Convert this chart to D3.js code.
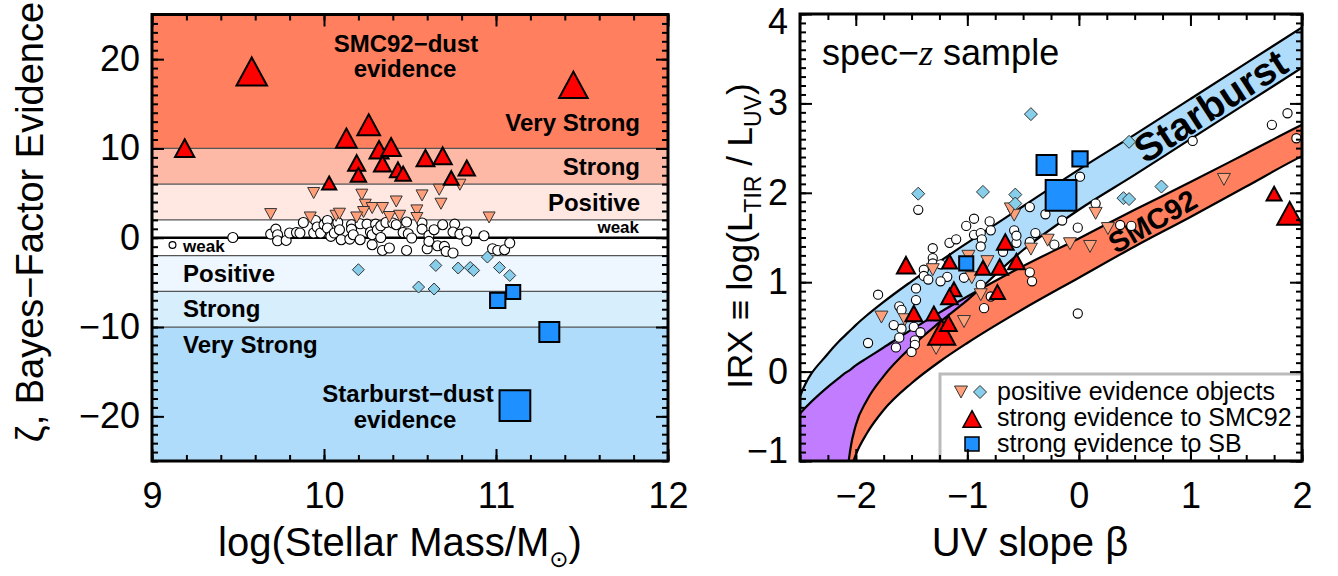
<!DOCTYPE html>
<html>
<head>
<meta charset="utf-8">
<script src="https://cdn.jsdelivr.net/npm/d3@7"></script>
<style>
  html, body { margin: 0; padding: 0; background: #fff; }
  svg text { font-family: "Liberation Sans", Arial, Helvetica, sans-serif; }
</style>
</head>
<body>
<svg id="fig" width="1338" height="576"></svg>
<script>
// ---------------- Left panel: Bayes-factor evidence vs. stellar mass ----------------
const massTicks = [9, 10, 11, 12];
const zetaTicks = [-20, -10, 0, 10, 20];
const zetaBandEdges = [25, 10, 6, 2, -2, -6, -10, -25];
const zetaBandFills = ["#ff7f5e", "#fdb9a6", "#ffe8e2", "#ffffff", "#eef7ff", "#d7eefd", "#afdcfb"];
const zetaBandLines = [10, 6, 2, -2, -6, -10];

// [log M*, zeta]
const smcStrong = [[9.19,10.04],[10.13,11.16],[10.26,12.65],[10.32,9.85],[10.39,10.16],[10.19,8.37],
  [10.34,8.29],[10.20,7.05],[10.43,7.61],[10.46,7.17],[10.59,8.92],[10.69,9.18],[10.74,6.69],
  [10.83,7.81],[10.03,6.13],[9.58,18.62],[11.45,17.13]];
const smcPositive = [[9.94,5.01],[10.22,4.82],[10.57,4.74],[10.67,5.38],[10.79,5.94],[10.24,3.70],
  [10.28,3.33],[10.34,3.33],[10.42,4.06],[10.68,3.81],[10.23,2.88],[10.54,3.06],[9.69,2.65],
  [9.92,2.27],[10.07,2.46],[10.09,2.69],[10.19,2.27],[10.38,2.32],[10.44,2.46],[10.54,2.21],[10.96,2.27]];
const sbPositive = [[10.20,-3.58],[10.65,-3.10],[10.78,-3.39],[10.85,-3.33],[10.87,-3.66],[10.95,-2.16],
  [11.02,-3.33],[11.08,-4.22],[10.55,-5.52],[10.64,-5.74]];
const sbStrong = [[11.01,-7.02],[11.10,-6.08],[11.31,-10.56],[11.11,-18.81]];
const weakObjects = [[9.47,0.03],[9.69,0.41],[9.72,0.97],[9.73,0.34],[9.73,-0.34],[9.78,-0.30],[9.80,0.53],
  [9.84,0.59],[9.86,0.53],[9.88,1.71],[9.94,0.53],[9.95,1.94],[9.96,1.20],[9.98,0.53],[10.00,1.46],
  [10.02,1.94],[10.02,1.09],[10.04,0.15],[10.06,0.53],[10.08,1.71],[10.09,0.90],[10.10,-0.22],
  [10.15,-0.15],[10.16,1.46],[10.16,0.97],[10.17,0.34],[10.21,-0.22],[10.21,1.57],[10.25,1.53],
  [10.27,0.64],[10.28,-0.78],[10.28,0.34],[10.30,1.53],[10.31,0.90],[10.33,0.03],[10.33,1.34],
  [10.34,-1.42],[10.36,1.71],[10.38,-1.15],[10.40,1.65],[10.42,1.46],[10.46,0.59],[10.48,-1.42],
  [10.48,1.76],[10.49,0.45],[10.51,-0.03],[10.57,1.65],[10.57,0.97],[10.60,-1.23],[10.61,0.26],
  [10.61,-0.41],[10.64,0.90],[10.66,-0.90],[10.69,1.46],[10.70,-0.97],[10.71,-1.53],[10.75,-1.71],
  [10.76,1.53],[10.75,0.64],[10.79,0.41],[10.83,0.64],[10.83,-0.34],[10.93,0.22],[10.98,-1.23],
  [11.01,-1.42],[11.05,-1.34],[11.08,-0.59]];

// ---------------- Right panel: IRX vs. UV slope ----------------
const betaTicks = [-2, -1, 0, 1, 2];
const irxTicks = [-1, 0, 1, 2, 3, 4];
// model envelopes sampled on a common beta grid (values below -1 fall outside the frame)
const curveBeta = [-2.6,-2.5,-2.25,-2.15,-2.1,-2.05,-2.0,-1.9,-1.75,-1.5,-1.25,-1.0,-0.5,0,0.5,1,1.5,2,2.1];
const sbUpper   = [-0.68,-0.28,0.20,0.34,0.40,0.46,0.52,0.63,0.78,1.01,1.23,1.44,1.85,2.26,2.65,3.05,3.45,3.85,3.93];
const sbLower   = [-3,-3,-3,-3,-1.5,-0.88,-0.60,-0.32,-0.05,0.28,0.55,0.80,1.36,1.81,2.20,2.60,3.00,3.40,3.48];
const smcUpper  = [-0.63,-0.47,-0.17,-0.07,-0.02,0.02,0.07,0.15,0.27,0.47,0.66,0.84,1.18,1.49,1.81,2.12,2.44,2.76,2.82];
const smcLower  = [-3,-3,-3,-3,-1.39,-1.11,-0.93,-0.69,-0.43,-0.13,0.11,0.32,0.70,1.05,1.40,1.73,2.07,2.41,2.47];

// [beta, IRX, zeta]
const rSmcStrong = [[-1.23,0.44,16],[-1.55,1.19,9.1],[-1.16,1.23,6.8],[-0.86,1.16,6.8],[-0.71,1.17,8.1],
  [-0.56,1.23,8.1],[-0.66,1.45,8.1],[-1.12,0.92,6.8],[-1.16,0.84,8.1],[-0.73,0.89,6.8],[-1.48,0.65,8.1],
  [-1.30,0.65,6.8],[-1.17,0.54,8.1],[1.75,1.99,6.8],[1.89,1.77,14.4]];
const rSbStrong = [[-0.16,1.97,-18.8],[-0.29,2.31,-10.6],[0.01,2.38,-7.0],[-1.01,1.21,-6.1]];
// [beta, IRX]
const rSmcPositive = [[-1.77,0.61],[-1.31,1.14],[-0.99,1.29],[-0.82,1.23],[-0.96,1.05],[-0.88,0.86],
  [-0.58,1.75],[-0.28,1.47],[-0.43,1.37],[-0.08,1.43],[-1.03,0.56],[-1.28,0.26],[-1.56,0.58],
  [1.30,2.15],[-0.61,1.82],[0.15,1.77],[0.26,1.60],[0.10,1.40]];
const rSbPositive = [[-0.43,2.88],[-1.44,1.99],[-0.86,2.01],[-0.57,1.98],[-0.57,1.88],[0.45,2.57],
  [0.74,2.07],[0.40,1.94],[0.45,1.93]];
const rWeak = [[-1.44,1.81],[-0.94,1.71],[-1.01,1.63],[-0.80,1.68],[-0.79,1.58],[-0.94,1.53],[-0.88,1.55],
  [-0.87,1.48],[-0.88,1.40],[-1.16,1.44],[-1.10,1.48],[-1.31,1.38],[-1.31,1.27],[-1.31,1.21],[-1.24,1.20],
  [-1.39,1.14],[-1.39,1.07],[-1.35,1.03],[-1.18,1.06],[-1.24,1.01],[-1.46,0.93],[-1.03,1.05],[-0.88,0.97],
  [-0.85,0.71],[-0.79,0.84],[-1.80,0.86],[-1.61,0.73],[-1.59,0.69],[-1.46,0.80],[-1.48,0.50],[-1.59,0.48],
  [-1.66,0.52],[-1.61,0.38],[-1.47,0.35],[-1.47,0.30],[-1.50,0.22],[-1.64,0.27],[-1.42,0.44],[-1.89,0.32],
  [-0.58,1.58],[-0.56,1.44],[-0.68,1.34],[-0.56,1.52],[-0.44,1.45],[-0.39,1.55],[-0.30,1.76],[-0.22,1.42],
  [-0.15,1.69],[-0.44,1.11],[-0.42,1.01],[-0.01,1.61],[-0.01,0.65],[-0.44,1.84],[1.73,2.76],[1.87,2.89],
  [1.95,2.61],[1.02,2.58],[0.01,2.18],[0.15,1.88],[0.37,1.64],[0.47,1.63]];

const legendRows = ["positive evidence objects", "strong evidence to SMC92", "strong evidence to SB"];

// ---------------- styles ----------------
const C = {
  red: "#ff0000", sq: "#1e90ff", salmon: "#ffa07a", sky: "#87ceeb",
  sbBand: "#afdcfb", smcBand: "#ff7f5e", overlap: "#c17cff"
};
const TICK_FONT = 36, TITLE_FONT = 40;
const intFmt = d3.format("d");

const svg = d3.select("#fig");
svg.append("rect").attr("width", 1338).attr("height", 576).attr("fill", "#fff");

// symbol paths centred on their bounding box
function triUp(w) { const h = 0.92 * w; return `M0,${-h/2}L${w/2},${h/2}L${-w/2},${h/2}Z`; }
function triDown(w) { const h = 0.92 * w; return `M${-w/2},${-h/2}L${w/2},${-h/2}L0,${h/2}Z`; }
function diamond(w) { return `M0,${-w/2}L${w/2},0L0,${w/2}L${-w/2},0Z`; }
function square(w) { return `M${-w/2},${-w/2}h${w}v${w}h${-w}Z`; }

// marker width grows with |zeta|
const sizeScale = d3.scaleLinear().domain([6, 19]).range([14, 31]);

function framedAxes(g, x, y, o) {
  const [x0, x1] = x.range(), [y0, y1] = y.range();
  const majLen = 12, minLen = 6;
  const style = sel => {
    sel.select(".domain").remove();
    sel.selectAll("line").attr("stroke", "#000").attr("stroke-width", 2);
    sel.selectAll("text").attr("fill", "#000").attr("font-size", TICK_FONT)
      .attr("font-family", '"Liberation Sans", Arial, sans-serif');
  };
  // minor ticks on all four sides
  g.append("g").attr("transform", `translate(0,${y0})`)
    .call(d3.axisBottom(x).tickValues(o.xMinor).tickSize(-minLen).tickFormat("")).call(style);
  g.append("g").attr("transform", `translate(0,${y1})`)
    .call(d3.axisTop(x).tickValues(o.xMinor).tickSize(-minLen).tickFormat("")).call(style);
  g.append("g").attr("transform", `translate(${x0},0)`)
    .call(d3.axisLeft(y).tickValues(o.yMinor).tickSize(-minLen).tickFormat("")).call(style);
  g.append("g").attr("transform", `translate(${x1},0)`)
    .call(d3.axisRight(y).tickValues(o.yMinor).tickSize(-minLen).tickFormat("")).call(style);
  // major ticks, labelled on bottom and left
  g.append("g").attr("transform", `translate(0,${y0})`)
    .call(d3.axisBottom(x).tickValues(o.xMajor).tickSize(-majLen).tickPadding(21).tickFormat(intFmt)).call(style);
  g.append("g").attr("transform", `translate(0,${y1})`)
    .call(d3.axisTop(x).tickValues(o.xMajor).tickSize(-majLen).tickFormat("")).call(style);
  const yl = g.append("g").attr("transform", `translate(${x0},0)`)
    .call(d3.axisLeft(y).tickValues(o.yMajor).tickSize(-majLen).tickPadding(12).tickFormat(intFmt)).call(style);
  g.append("g").attr("transform", `translate(${x1},0)`)
    .call(d3.axisRight(y).tickValues(o.yMajor).tickSize(-majLen).tickFormat("")).call(style);
  g.append("rect").attr("x", x0).attr("y", y1).attr("width", x1 - x0).attr("height", y0 - y1)
    .attr("fill", "none").attr("stroke", "#000").attr("stroke-width", 3);
  return yl;
}

// ================= LEFT PANEL =================
const xM = d3.scaleLinear().domain([9, 12]).range([152, 668]);
const yZ = d3.scaleLinear().domain([-25, 25]).range([461, 14.5]);
const L = svg.append("g");

L.selectAll("rect.band").data(zetaBandFills).join("rect").attr("class", "band")
  .attr("x", xM(9)).attr("width", xM(12) - xM(9))
  .attr("y", (d, i) => yZ(zetaBandEdges[i]))
  .attr("height", (d, i) => yZ(zetaBandEdges[i + 1]) - yZ(zetaBandEdges[i]))
  .attr("fill", d => d);
L.selectAll("line.bl").data(zetaBandLines).join("line").attr("class", "bl")
  .attr("x1", xM(9)).attr("x2", xM(12)).attr("y1", d => yZ(d)).attr("y2", d => yZ(d))
  .attr("stroke", "#555").attr("stroke-width", 1.2);
L.append("line").attr("x1", xM(9)).attr("x2", xM(12)).attr("y1", yZ(0)).attr("y2", yZ(0))
  .attr("stroke", "#000").attr("stroke-width", 2.5);

// band labels
const bold = (g, t, x, y, fs, anchor) => g.append("text").text(t).attr("x", x).attr("y", y)
  .attr("font-size", fs).attr("font-weight", "bold").attr("text-anchor", anchor || "start");
bold(L, "SMC92\u2212dust", 406, 52, 24, "middle");
bold(L, "evidence", 405, 77, 24, "middle");
bold(L, "Very Strong", 640, 131, 24, "end");
bold(L, "Strong", 640, 175, 24, "end");
bold(L, "Positive", 640, 211, 24, "end");
bold(L, "weak", 639, 233, 17, "end");
bold(L, "weak", 183, 252, 17, "start");
L.append("circle").attr("cx", 172.5).attr("cy", 245).attr("r", 3.4)
  .attr("fill", "#fff").attr("stroke", "#000").attr("stroke-width", 1.2);
bold(L, "Positive", 183, 282, 24, "start");
bold(L, "Strong", 183, 317, 24, "start");
bold(L, "Very Strong", 183, 353, 24, "start");
bold(L, "Starburst\u2212dust", 408, 402, 24, "middle");
bold(L, "evidence", 405, 428, 24, "middle");

// markers
L.selectAll("circle.weak").data(weakObjects).join("circle").attr("class", "weak")
  .attr("cx", d => xM(d[0])).attr("cy", d => yZ(d[1])).attr("r", 5)
  .attr("fill", "#fff").attr("stroke", "#000").attr("stroke-width", 1.1);
L.selectAll("path.sp").data(smcPositive).join("path").attr("class", "sp")
  .attr("transform", d => `translate(${xM(d[0])},${yZ(d[1])})`).attr("d", triDown(12))
  .attr("fill", C.salmon).attr("stroke", "#333").attr("stroke-width", 1);
L.selectAll("path.bp").data(sbPositive).join("path").attr("class", "bp")
  .attr("transform", d => `translate(${xM(d[0])},${yZ(d[1])})`).attr("d", diamond(12))
  .attr("fill", C.sky).attr("stroke", "#333").attr("stroke-width", 1);
L.selectAll("path.ss").data(smcStrong).join("path").attr("class", "ss")
  .attr("transform", d => `translate(${xM(d[0])},${yZ(d[1])})`)
  .attr("d", d => triUp(sizeScale(Math.abs(d[1]))))
  .attr("fill", C.red).attr("stroke", "#000").attr("stroke-width", 2);
L.selectAll("path.bs").data(sbStrong).join("path").attr("class", "bs")
  .attr("transform", d => `translate(${xM(d[0])},${yZ(d[1])})`)
  .attr("d", d => square(sizeScale(Math.abs(d[1]))))
  .attr("fill", C.sq).attr("stroke", "#000").attr("stroke-width", 2);

framedAxes(L, xM, yZ, {
  xMajor: massTicks, xMinor: d3.range(9, 12.001, 0.2),
  yMajor: zetaTicks, yMinor: d3.range(-25, 25.001, 1)
});

// axis titles
svg.append("text").attr("x", 400).attr("y", 556).attr("text-anchor", "middle")
  .attr("font-size", TITLE_FONT)
  .call(t => {
    t.append("tspan").text("log(Stellar Mass/M");
    t.append("tspan").text("\u2299").attr("font-size", 23).attr("dy", 11)
      .attr("font-family", "DejaVu Sans");
    t.append("tspan").text(")").attr("dy", -11);
  });
svg.append("text").attr("transform", "translate(43,222) rotate(-90)").attr("text-anchor", "middle")
  .attr("font-size", 38).text("\u03b6, Bayes\u2212Factor Evidence");

// ================= RIGHT PANEL =================
const xB = d3.scaleLinear().domain([-2.5, 2]).range([800, 1302]);
const yI = d3.scaleLinear().domain([-1, 4]).range([461, 14]);
const R = svg.append("g");
const defs = svg.append("defs");
defs.append("clipPath").attr("id", "rclip").append("rect")
  .attr("x", 800).attr("y", 14).attr("width", 502).attr("height", 447);

const curveRows = curveBeta.map((b, i) => ({ b, sbU: sbUpper[i], sbL: sbLower[i], smU: smcUpper[i], smL: smcLower[i] }));
const sbArea = d3.area().x(d => xB(d.b)).y0(d => yI(d.sbL)).y1(d => yI(d.sbU)).curve(d3.curveMonotoneX);
const smcArea = d3.area().x(d => xB(d.b)).y0(d => yI(d.smL)).y1(d => yI(d.smU)).curve(d3.curveMonotoneX);
const lineOf = key => d3.line().x(d => xB(d.b)).y(d => yI(d[key])).curve(d3.curveMonotoneX);

defs.append("clipPath").attr("id", "sbclip").append("path").attr("d", sbArea(curveRows));

const Rc = R.append("g").attr("clip-path", "url(#rclip)");
Rc.append("path").attr("d", sbArea(curveRows)).attr("fill", C.sbBand);
Rc.append("path").attr("d", smcArea(curveRows)).attr("fill", C.smcBand);
// where the two envelopes overlap
Rc.append("g").attr("clip-path", "url(#sbclip)")
  .append("path").attr("d", smcArea(curveRows)).attr("fill", C.overlap);
["sbU", "sbL", "smU", "smL"].forEach(k =>
  Rc.append("path").attr("d", lineOf(k)(curveRows)).attr("fill", "none")
    .attr("stroke", "#000").attr("stroke-width", 2.2));

// band names
Rc.append("text").attr("transform", `translate(${xB(1.18)},${yI(2.97)}) rotate(-33)`)
  .attr("text-anchor", "middle").attr("dominant-baseline", "central")
  .attr("font-size", 39).attr("font-weight", "bold").text("Starburst");
Rc.append("text").attr("transform", `translate(${xB(0.66)},${yI(1.68)}) rotate(-30)`)
  .attr("text-anchor", "middle").attr("dominant-baseline", "central")
  .attr("font-size", 29).attr("font-weight", "bold").text("SMC92");

// markers
Rc.selectAll("circle.rw").data(rWeak).join("circle").attr("class", "rw")
  .attr("cx", d => xB(d[0])).attr("cy", d => yI(d[1])).attr("r", 4.6)
  .attr("fill", "#fff").attr("stroke", "#000").attr("stroke-width", 1.1);
Rc.selectAll("path.rsp").data(rSmcPositive).join("path").attr("class", "rsp")
  .attr("transform", d => `translate(${xB(d[0])},${yI(d[1])})`).attr("d", triDown(13))
  .attr("fill", C.salmon).attr("stroke", "#333").attr("stroke-width", 1);
Rc.selectAll("path.rbp").data(rSbPositive).join("path").attr("class", "rbp")
  .attr("transform", d => `translate(${xB(d[0])},${yI(d[1])})`).attr("d", diamond(13))
  .attr("fill", C.sky).attr("stroke", "#333").attr("stroke-width", 1);
Rc.selectAll("path.rss").data(rSmcStrong).join("path").attr("class", "rss")
  .attr("transform", d => `translate(${xB(d[0])},${yI(d[1])})`)
  .attr("d", d => triUp(sizeScale(Math.abs(d[2]))))
  .attr("fill", C.red).attr("stroke", "#000").attr("stroke-width", 2);
Rc.selectAll("path.rbs").data(rSbStrong).join("path").attr("class", "rbs")
  .attr("transform", d => `translate(${xB(d[0])},${yI(d[1])})`)
  .attr("d", d => square(sizeScale(Math.abs(d[2]))))
  .attr("fill", C.sq).attr("stroke", "#000").attr("stroke-width", 2);

// sample label
R.append("text").attr("x", 822).attr("y", 65).attr("font-size", 36)
  .call(t => {
    t.append("tspan").text("spec\u2212");
    t.append("tspan").text("z").attr("font-style", "italic").attr("font-family", '"Liberation Serif", serif');
    t.append("tspan").text(" sample");
  });

// legend
const lg = R.append("g");
lg.append("rect").attr("x", 940).attr("y", 374).attr("width", 362).attr("height", 87)
  .attr("fill", "#fff").attr("stroke", "#bbb").attr("stroke-width", 3);
lg.append("path").attr("transform", "translate(961,392)").attr("d", triDown(13))
  .attr("fill", C.salmon).attr("stroke", "#333").attr("stroke-width", 1);
lg.append("path").attr("transform", "translate(980,392)").attr("d", diamond(13))
  .attr("fill", C.sky).attr("stroke", "#333").attr("stroke-width", 1);
lg.append("path").attr("transform", "translate(972,419)").attr("d", triUp(18))
  .attr("fill", C.red).attr("stroke", "#000").attr("stroke-width", 1.5);
lg.append("path").attr("transform", "translate(972,444)").attr("d", square(14))
  .attr("fill", C.sq).attr("stroke", "#000").attr("stroke-width", 1.5);
lg.selectAll("text").data(legendRows).join("text")
  .attr("x", 997).attr("y", (d, i) => 400 + i * 26).attr("font-size", 25).text(d => d);

const ryl = framedAxes(R, xB, yI, {
  xMajor: betaTicks, xMinor: d3.range(-2.5, 2.001, 0.25),
  yMajor: irxTicks, yMinor: d3.range(-1, 4.001, 0.1)
});
// end labels kept inside the figure
ryl.selectAll(".tick").filter(d => d === -1).select("text").attr("dy", "0.05em");
ryl.selectAll(".tick").filter(d => d === 4).select("text").attr("dy", "0.55em");

svg.append("text").attr("x", 1030).attr("y", 556).attr("text-anchor", "middle")
  .attr("font-size", TITLE_FONT).text("UV slope \u03b2");
svg.append("text").attr("transform", "translate(752,236) rotate(-90)").attr("text-anchor", "middle")
  .attr("font-size", 35)
  .call(t => {
    t.append("tspan").text("IRX \u2261 log(L");
    t.append("tspan").text("TIR").attr("font-size", 23).attr("dy", 9);
    t.append("tspan").text(" / L").attr("dy", -9);
    t.append("tspan").text("UV").attr("font-size", 23).attr("dy", 9);
    t.append("tspan").text(")").attr("dy", -9);
  });
</script>
</body>
</html>
